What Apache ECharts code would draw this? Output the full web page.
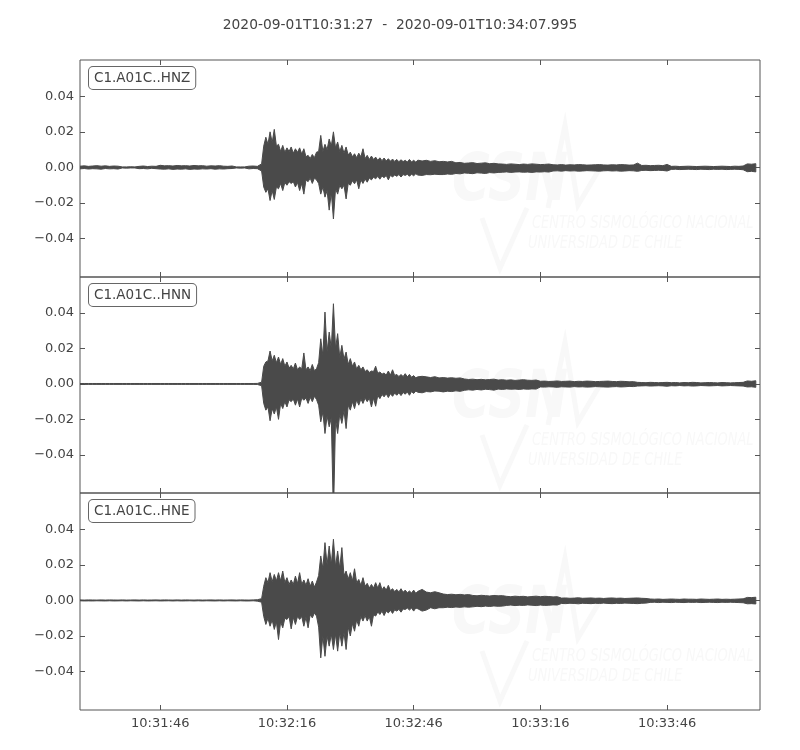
<!DOCTYPE html>
<html>
<head>
<meta charset="utf-8">
<script src="https://cdn.jsdelivr.net/npm/echarts@6/dist/echarts.min.js"></script>
<style>html,body{margin:0;padding:0;background:#fff}#c{width:800px;height:750px}</style>
</head>
<body>
<div id="c"></div>
<script>
// ---- data: amplitude envelope (max / min) in thousandths, one pair per second,
//      plus half-second pairs (t + 0.5 s) across the strong-motion window ----
const SCALE = 1e-3;
const title = '2020-09-01T10:31:27  -  2020-09-01T10:34:07.995';
const channels = ['C1.A01C..HNZ', 'C1.A01C..HNN', 'C1.A01C..HNE'];
const startSec = 10 * 3600 + 31 * 60 + 27;
const endOffset = 160.995;
const HALF_START = 43;          // first second that has a half-second sample
const xTickSeconds = [19, 49, 79, 109, 139];
const yTickValues = [-0.04, -0.02, 0, 0.02, 0.04];

const hnzHi = [0.7,0.9,0.6,0.8,1.0,0.7,0.9,0.6,0.8,0.7,
0.3,0.3,0.4,0.3,0.6,0.8,0.5,0.7,0.6,1.2,
0.9,1.0,0.8,1.1,0.9,1.0,0.8,1.1,0.9,1.0,
0.7,0.9,0.8,1.0,0.7,0.6,0.8,0.3,0.3,0.3,
0.7,0.8,0.6,
2,17,20,21.4,13,12.4,11,
11.5,10.5,11,10.5,6.8,7.3,8.6,18,13,16,
20,14.3,12.4,11.5,8.6,7.7,8,10.5,6.8,6.4,
5.8,5.4,5.3,4.9,4.7,4.5,4.3,4,4.5,4,
4.1,3.6,4,3.4,3.8,3.2,
3.4,3.1,3.4,
2.6,2.8,2.3,2.5,2.7,2.2,2.4,2.6,2.1,2.3,2.0,
1.9,1.7,2.0,1.8,1.6,1.9,1.7,2.0,1.8,1.6,1.7,1.9,
1.5,1.4,1.6,1.3,1.5,1.4,1.6,1.5,1.3,1.4,1.5,1.6,1.4,1.3,1.5,1.4,1.6,1.5,1.3,1.4,
2.4,
1.1,1.2,1.0,1.1,1.2,1.0,
1.7,
0.6,0.7,0.5,0.6,0.7,0.6,0.5,0.6,0.7,0.6,0.5,0.6,0.7,0.6,0.5,0.7,0.6,0.8,
2.0,1.8,2.1];
const hnzLo = [-0.8,-0.6,-0.9,-0.7,-0.8,-1.0,-0.6,-0.8,-0.7,-0.9,
-0.3,-0.4,-0.3,-0.3,-0.7,-0.6,-0.8,-0.5,-0.7,-0.9,
-1.0,-0.8,-1.1,-0.9,-1.0,-0.8,-1.1,-0.9,-1.0,-0.8,
-0.9,-0.7,-1.0,-0.8,-0.9,-0.7,-0.6,-0.3,-0.4,-0.3,
-0.8,-0.6,-0.7,
-2,-14,-18.6,-18,-12,-13,-10,
-9,-11,-13,-15,-8,-9,-7,-15,-16.7,-24,
-29,-15,-12,-17.7,-10,-9.2,-12,-9,-8.3,-7,
-6.4,-6.6,-5.8,-7,-5.4,-5,-5.4,-4.5,-5,-4.7,
-4.3,-4.5,-4,-4.1,-3.8,-4,
-4.0,-3.7,-3.9,
-3.4,-3.6,-3.1,-3.3,-3.5,-3.0,-3.2,-3.4,-2.9,-3.1,-2.8,
-2.7,-2.5,-2.8,-2.6,-2.5,-2.7,-2.6,-2.8,-2.5,-2.6,-2.4,-2.6,
-2.0,-1.9,-2.1,-1.8,-2.0,-1.9,-2.1,-2.0,-1.8,-1.9,-2.0,-2.1,-1.9,-1.8,-2.0,-1.9,-2.1,-2.0,-1.8,-1.9,
-2.2,
-1.7,-1.6,-1.8,-1.7,-1.6,-1.7,
-2.0,
-1.1,-1.0,-1.2,-1.1,-1.0,-1.1,-1.2,-1.0,-1.1,-1.2,-1.0,-1.1,-1.0,-1.2,-1.1,-1.0,-1.1,-1.3,
-2.4,-2.2,-2.5];
const hnzHiHalf = [12,13,14,12,9, 8.5,9,8,8.5,7.5, 6,5,5.5,9,9, 10,12,11,9,8,
7,6,5.5,6,5, 4.5,4.5,4,3.8,3.6, 3.5,3.4,3.2,3.3,3.0, 3.1,3.0];
const hnzLoHalf = [-11,-12,-13,-11,-9, -8.5,-8,-8,-8.5,-9, -7,-6,-6,-9,-11, -13,-14,-12,-10,-10,
-9,-7.5,-7,-7,-6.5, -6,-5.5,-5,-4.8,-4.5, -4.4,-4.2,-4,-4,-3.8, -3.8,-3.6];

const hnnHi = [0.25,0.25,0.25,0.25,0.25,0.25,0.25,0.25,0.25,0.25,
0.25,0.25,0.25,0.25,0.25,0.25,0.25,0.25,0.25,0.25,
0.25,0.25,0.25,0.25,0.25,0.25,0.25,0.25,0.25,0.25,
0.25,0.25,0.25,0.25,0.25,0.25,0.25,0.25,0.25,0.25,
0.25,0.25,0.3,
1,12.4,18.6,16.2,15.2,14.3,12.4,
10.5,11.8,9.6,17.5,9.6,11,8.6,25.5,40.6,29.3,
45.3,28.4,21.8,18,14.3,12.4,10.5,9.6,8,7.3,
10,6.8,6.2,7.3,8,5.4,5.3,5.8,5.4,4.7,
4,4.3,4,3.6,4.1,3.4,
3.6,3.3,3.5,3.2,3.4,
2.8,2.5,2.7,2.4,2.6,2.3,2.5,2.7,2.2,2.4,2.1,2.3,2.0,2.2,2.4,2.1,2.0,2.2,
1.5,1.6,1.4,1.5,1.7,1.4,1.5,1.6,1.3,1.5,1.4,1.6,1.5,1.3,1.4,1.5,1.6,1.4,1.3,1.5,1.4,1.2,1.3,
0.9,0.8,0.7,0.9,0.8,0.7,0.8,0.9,0.7,0.8,0.6,0.8,0.7,0.9,0.8,0.6,0.7,0.8,0.7,0.6,0.8,0.7,0.6,0.7,0.8,0.9,
1.7,1.5,1.8];
const hnnLo = [-0.25,-0.25,-0.25,-0.25,-0.25,-0.25,-0.25,-0.25,-0.25,-0.25,
-0.25,-0.25,-0.25,-0.25,-0.25,-0.25,-0.25,-0.25,-0.25,-0.25,
-0.25,-0.25,-0.25,-0.25,-0.25,-0.25,-0.25,-0.25,-0.25,-0.25,
-0.25,-0.25,-0.25,-0.25,-0.25,-0.25,-0.25,-0.25,-0.25,-0.25,
-0.25,-0.25,-0.3,
-1,-14.8,-20.8,-17,-20,-13.9,-13,
-10,-12,-13,-9.2,-11,-10,-8.8,-21.4,-28,-24.2,
-75,-28,-22.3,-25.2,-14.8,-13.9,-12,-11,-10,-13,
-12.6,-8.3,-7.3,-7.7,-7,-6.4,-6.6,-5.8,-6.4,-5.4,
-4.7,-5,-4.3,-4.5,-4,-4.1,
-4.5,-4.1,-4.3,-3.9,-4.2,
-3.6,-3.3,-3.5,-3.1,-3.4,-3.0,-3.2,-3.5,-2.9,-3.1,-2.8,-3.0,-2.9,-3.1,-2.8,-3.0,-2.8,-2.9,
-1.7,-1.8,-1.6,-1.7,-1.9,-1.6,-1.7,-1.8,-1.5,-1.7,-1.6,-1.8,-1.7,-1.5,-1.6,-1.7,-1.8,-1.6,-1.5,-1.7,-1.6,-1.4,-1.5,
-1.2,-1.1,-1.0,-1.2,-1.1,-1.0,-1.1,-1.3,-1.0,-1.1,-0.9,-1.1,-1.0,-1.2,-1.1,-0.9,-1.0,-1.1,-1.0,-0.9,-1.1,-1.0,-0.9,-1.0,-1.1,-1.2,
-1.7,-1.6,-1.9];
const hnnHiHalf = [10,13,13,12,11, 10,9,8.5,8,8.5, 8,7.5,7.5,12,16, 18,20,20,15,14,
11,10,8.5,8,7, 6.5,7,6,5.5,5, 5,4.8,4.2,4.2,4, 3.8,3.5];
const hnnLoHalf = [-11,-13,-14,-13,-11, -10,-9,-8.5,-8.5,-8, -8,-7.5,-7,-12,-16, -18,-19,-20,-17,-15,
-12,-10,-9,-8.5,-8, -8,-8,-6.5,-6,-5.5, -5.5,-5.2,-5,-4.8,-4.5, -4.3,-4];

const hneHi = [0.3,0.2,0.3,0.25,0.2,0.3,0.2,0.3,0.25,0.2,
0.3,0.2,0.25,0.3,0.2,0.3,0.2,0.25,0.3,0.2,
0.3,0.25,0.2,0.3,0.2,0.3,0.25,0.2,0.3,0.2,
0.25,0.3,0.2,0.3,0.2,0.25,0.3,0.2,0.3,0.25,
0.2,0.3,0.4,
1,12.8,15.6,14.6,15.6,16.5,12.8,
11.5,13.7,15.6,11.5,12.2,10.9,10.3,25,32.5,30.6,
34.4,27.8,29.7,16.5,15.6,17.8,11.8,12.8,9.6,9,
10,10,7.7,8.5,6.6,6.2,6.6,5.8,5.3,5.8,
5.1,6.2,4.7,4.3,4.9,4.3,
3.6,3.3,3.5,3.2,3.4,3.1,3.3,
2.8,2.6,2.9,2.7,2.5,2.8,2.6,2.7,
2.3,2.1,2.4,2.2,2.3,2.0,2.2,2.4,2.1,2.3,2.2,2.0,2.1,
1.3,1.4,1.2,1.3,1.5,1.2,1.3,1.4,1.2,1.3,1.1,1.3,1.4,1.2,1.3,1.1,1.2,1.3,1.4,1.2,1.1,
0.8,0.7,0.8,0.6,0.7,0.8,0.7,0.6,0.8,0.7,0.7,0.6,0.8,0.7,0.6,0.7,0.8,0.6,0.7,0.6,0.7,0.8,0.9,
1.7,1.6,1.8];
const hneLo = [-0.2,-0.3,-0.25,-0.3,-0.2,-0.25,-0.3,-0.2,-0.3,-0.25,
-0.2,-0.3,-0.2,-0.25,-0.3,-0.2,-0.3,-0.25,-0.2,-0.3,
-0.25,-0.2,-0.3,-0.2,-0.3,-0.25,-0.2,-0.3,-0.2,-0.3,
-0.2,-0.25,-0.3,-0.2,-0.3,-0.2,-0.25,-0.3,-0.2,-0.3,
-0.3,-0.2,-0.4,
-1,-13.5,-14.5,-16.3,-22,-15.4,-10.7,
-16,-13.5,-10.7,-14.5,-15.4,-9.8,-8.8,-32.3,-31.4,-25.7,
-27.6,-28.5,-25.7,-27.6,-20,-17.3,-14.5,-11.6,-11.6,-14.5,
-8.8,-7.9,-8.5,-7,-7.3,-6,-6.6,-5.1,-5.4,-6,
-4.7,-6.0,-5.4,-4.1,-4.7,-4.1,
-4.1,-3.8,-4.0,-3.7,-3.9,-3.6,-3.8,
-3.6,-3.3,-3.5,-3.2,-3.4,-3.1,-3.3,-3.2,
-2.8,-2.6,-2.9,-2.7,-2.8,-2.5,-2.7,-2.9,-2.6,-2.8,-2.7,-2.5,-2.6,
-1.7,-1.8,-1.6,-1.7,-1.9,-1.6,-1.7,-1.8,-1.6,-1.7,-1.5,-1.7,-1.8,-1.6,-1.7,-1.5,-1.6,-1.7,-1.8,-1.6,-1.5,
-1.1,-1.0,-1.2,-1.0,-1.1,-1.2,-1.0,-1.1,-1.2,-1.0,-1.1,-1.0,-1.2,-1.1,-1.0,-1.1,-1.2,-1.0,-1.1,-1.0,-1.1,-1.2,-1.3,
-1.9,-1.8,-2.0];
const hneHiHalf = [8,10,10.5,11,11, 10,9,9,9.5,9, 8.5,8,7.5,14,18, 20,20,19,18,14,
12,11,10,8.5,8, 7,7,7,6,5.8, 5.5,5,4.8,4.6,4.3, 4.2,4];
const hneLoHalf = [-9,-10,-11,-12,-12, -10,-9,-9.5,-9,-9, -9.5,-8,-7,-15,-20, -20,-19,-19,-18,-18,
-15,-13,-11,-9,-8.5, -9,-8,-6.5,-6,-6, -5.5,-5.3,-5,-4.8,-4.3, -4.3,-4.3];

const highs = [hnzHi, hnnHi, hneHi];
const lows = [hnzLo, hnnLo, hneLo];
const highsHalf = [hnzHiHalf, hnnHiHalf, hneHiHalf];
const lowsHalf = [hnzLoHalf, hnnLoHalf, hneLoHalf];

// ---- chart ----
const FONT = 'DejaVu Sans';
const TXT = '#444';
const FRAME = '#555';
const WAVE = '#4a4a4a';
const gridTops = [60, 277, 493];
const gridH = [217, 216, 217];
const Y_MIN = -0.0616, Y_MAX = 0.0604;

function pad(n) { return (n < 10 ? '0' : '') + n; }
function timeLabel(s) {
  const t = Math.round(startSec + s);
  return pad(Math.floor(t / 3600)) + ':' + pad(Math.floor(t / 60) % 60) + ':' + pad(t % 60);
}
function yLabel(v) {
  const s = Math.abs(v).toFixed(2);
  return v < -1e-9 ? '\u2212' + s : s;
}
// samples [time, max, min] in time order
function buildSamples(hi, lo, hiH, loH) {
  const out = [];
  for (let i = 0; i < hi.length; i++) {
    out.push([i, hi[i] * SCALE, lo[i] * SCALE]);
    const j = i - HALF_START;
    if (j >= 0 && j < hiH.length) out.push([i + 0.5, hiH[j] * SCALE, loH[j] * SCALE]);
  }
  return out;
}

const grids = [], xAxes = [], yAxes = [], series = [], graphics = [];
channels.forEach((name, k) => {
  grids.push({ left: 80, width: 680, top: gridTops[k], height: gridH[k], show: true,
    borderColor: FRAME, borderWidth: 1, backgroundColor: 'transparent' });
  const tick = { show: true, inside: true, length: 5, lineStyle: { color: FRAME, width: 1 } };
  const noLine = { show: false, onZero: false };
  xAxes.push({ type: 'value', gridIndex: k, position: 'bottom', min: 0, max: endOffset,
    axisLine: noLine, splitLine: { show: false },
    axisTick: Object.assign({ customValues: xTickSeconds }, tick),
    axisLabel: { show: k === 2, customValues: xTickSeconds, formatter: timeLabel,
      color: TXT, fontFamily: FONT, fontSize: 13, margin: 7 } });
  xAxes.push({ type: 'value', gridIndex: k, position: 'top', min: 0, max: endOffset,
    axisLine: noLine, splitLine: { show: false },
    axisTick: Object.assign({ customValues: xTickSeconds }, tick),
    axisLabel: { show: false } });
  yAxes.push({ type: 'value', gridIndex: k, position: 'left', min: Y_MIN, max: Y_MAX,
    axisLine: noLine, splitLine: { show: false },
    axisTick: Object.assign({ customValues: yTickValues }, tick),
    axisLabel: { customValues: yTickValues, formatter: yLabel, color: TXT,
      fontFamily: FONT, fontSize: 13, margin: 6 } });
  yAxes.push({ type: 'value', gridIndex: k, position: 'right', min: Y_MIN, max: Y_MAX,
    axisLine: noLine, splitLine: { show: false },
    axisTick: Object.assign({ customValues: yTickValues }, tick),
    axisLabel: { show: false } });

  const samples = buildSamples(highs[k], lows[k], highsHalf[k], lowsHalf[k]);
  series.push({ type: 'custom', name: name, xAxisIndex: 2 * k, yAxisIndex: 2 * k,
    data: samples, encode: { x: 0, y: [1, 2] }, clip: true,
    animation: false, silent: true, z: 3,
    renderItem: function (params, api) {
      if (params.dataIndex !== 0) return null;
      const upper = samples.map(p => api.coord([p[0], p[1]]));
      const lower = samples.map(p => api.coord([p[0], p[2]])).reverse();
      return { type: 'polygon', shape: { points: upper.concat(lower) },
        style: { fill: WAVE, stroke: WAVE, lineWidth: 1, lineJoin: 'miter', miterLimit: 2 } };
    } });

  // faint CSN watermark
  const dy = gridTops[k] - gridTops[0];
  const wm = '#f8f8f8';
  graphics.push({ type: 'text', z: 1, x: 452, y: 150 + dy, style: { text: 'CSN', fill: wm,
    font: 'italic bold 66px "DejaVu Sans"' }, scaleX: 0.78 });
  graphics.push({ type: 'polyline', z: 1, shape: { points: [[548, 208 + dy], [565, 125 + dy], [578, 205 + dy], [600, 168 + dy]] },
    style: { stroke: wm, lineWidth: 5, fill: null } });
  graphics.push({ type: 'polyline', z: 1, shape: { points: [[482, 218 + dy], [500, 268 + dy], [527, 208 + dy]] },
    style: { stroke: wm, lineWidth: 5, fill: null } });
  graphics.push({ type: 'text', z: 1, x: 532, y: 214 + dy, style: { text: 'CENTRO SISMOLÓGICO NACIONAL', fill: wm,
    font: 'italic 18px "DejaVu Sans"' }, scaleX: 0.72 });
  graphics.push({ type: 'text', z: 1, x: 528, y: 234 + dy, style: { text: 'UNIVERSIDAD DE CHILE', fill: wm,
    font: 'italic 18px "DejaVu Sans"' }, scaleX: 0.72 });

  // channel label box
  graphics.push({ type: 'text', z: 100, x: 89, y: gridTops[k] + 7, style: {
    text: name, fill: TXT, font: '13.5px "DejaVu Sans"', backgroundColor: '#fff',
    borderColor: '#666', borderWidth: 1, borderRadius: 4, padding: [4, 5, 4, 5] } });
});

const chart = echarts.init(document.getElementById('c'), null, { renderer: 'canvas' });
chart.setOption({
  animation: false,
  backgroundColor: '#fff',
  title: { text: title, left: 'center', top: 13,
    textStyle: { color: TXT, fontFamily: FONT, fontSize: 13.8, fontWeight: 'normal' } },
  grid: grids, xAxis: xAxes, yAxis: yAxes, series: series, graphic: graphics
});
</script>
</body>
</html>
